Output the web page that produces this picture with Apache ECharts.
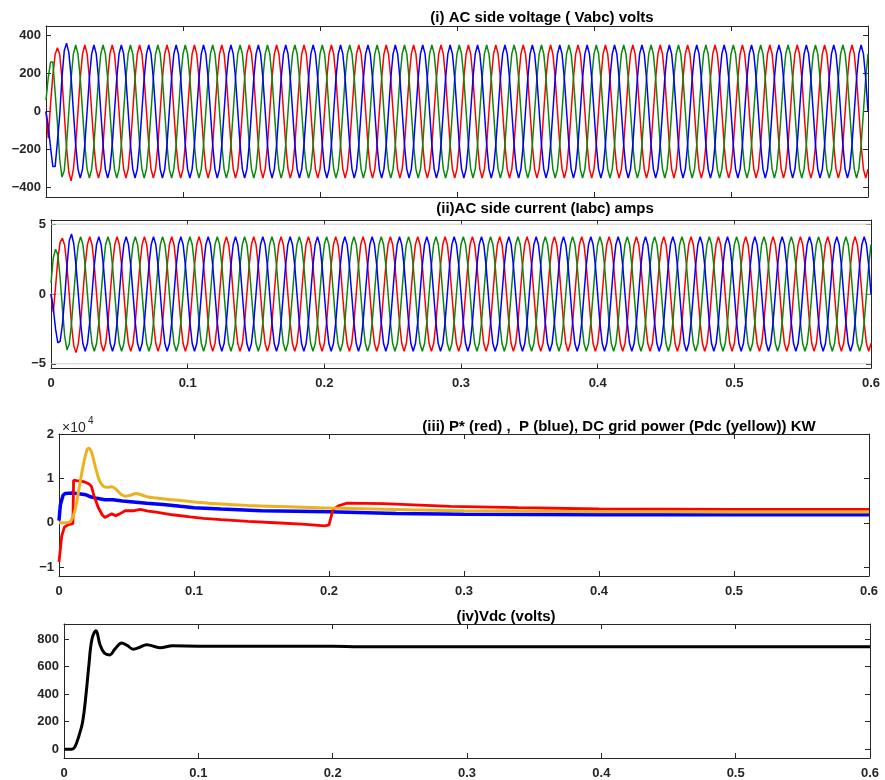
<!DOCTYPE html>
<html>
<head>
<meta charset="utf-8">
<script src="https://cdn.jsdelivr.net/npm/echarts@6/dist/echarts.min.js"></script>
<style>
  html, body { margin: 0; padding: 0; background: #fff; }
  #box { width: 885px; height: 780px; }
</style>
</head>
<body>
<div id="box"></div>
<script>
// ---- data ----
// three phase waveforms: 12 samples per 20 ms cycle, 30 cycles in 0.6 s
var cycleTime = 0.02;
var samplesPerCycle = 12;
var cycles = 30;

// first cycle (start-up transient), volts
var vaStart = [0, -140, 40, 190, 300, 335, 300, 170, -10, -190, -320, -365];
var vbStart = [0, -80, -190, -290, -290, -160, -20, 180, 320, 360, 310, 180];
var vcStart = [60, 180, 260, 260, 100, -60, -250, -345, -310, -175, 0, 175];
// steady cycle, volts
var vaCycle = [-303, -175, 0, 175, 303, 350, 303, 175, 0, -175, -303, -350];
var vbCycle = [0, -175, -303, -350, -303, -175, 0, 175, 303, 350, 303, 175];
var vcCycle = [303, 350, 303, 175, 0, -175, -303, -350, -303, -175, 0, 175];

// first cycle (start-up transient), amps
var iaStart = [0, -1.3, 0.5, 2.5, 3.7, 4.0, 3.5, 2.0, 0, -2.2, -3.7, -4.2];
var ibStart = [0, -1.0, -2.5, -3.5, -3.4, -2.2, -0.3, 2.0, 3.8, 4.3, 3.6, 2.0];
var icStart = [0.8, 2.6, 3.2, 2.8, 1.2, -1.0, -3.0, -4.0, -3.6, -2.1, 0, 2.05];
// steady cycle, amps
var iaCycle = [-3.55, -2.05, 0, 2.05, 3.55, 4.1, 3.55, 2.05, 0, -2.05, -3.55, -4.1];
var ibCycle = [0, -2.05, -3.55, -4.1, -3.55, -2.05, 0, 2.05, 3.55, 4.1, 3.55, 2.05];
var icCycle = [3.55, 4.1, 3.55, 2.05, 0, -2.05, -3.55, -4.1, -3.55, -2.05, 0, 2.05];

// P* (red)
var pRefTime = [0, 0.001, 0.002, 0.004, 0.007, 0.0103, 0.0108, 0.013, 0.016, 0.019, 0.022, 0.024, 0.026, 0.029, 0.032, 0.034, 0.037, 0.039, 0.042, 0.045, 0.049, 0.055, 0.06, 0.066, 0.072, 0.084, 0.097, 0.107, 0.12, 0.14, 0.16, 0.18, 0.197, 0.2, 0.203, 0.207, 0.213, 0.24, 0.29, 0.34, 0.4, 0.5, 0.6];
var pRefVal = [-8800, -6000, -3000, -1000, -400, -200, 9600, 9500, 9400, 9200, 8800, 8200, 6000, 3500, 1800, 1200, 1700, 2000, 1600, 2000, 2700, 2700, 3000, 2600, 2400, 1800, 1300, 1000, 700, 300, 0, -300, -700, -500, 3000, 3800, 4400, 4300, 3700, 3400, 3100, 3000, 3000];
// P (blue)
var pTime = [0, 0.001, 0.003, 0.0045, 0.01, 0.016, 0.02, 0.024, 0.028, 0.034, 0.04, 0.047, 0.055, 0.065, 0.077, 0.09, 0.1, 0.12, 0.15, 0.2, 0.25, 0.3, 0.4, 0.5, 0.6];
var pVal = [500, 4000, 6200, 6600, 6700, 6500, 6300, 5800, 5500, 5200, 5200, 4900, 4700, 4400, 4100, 3700, 3400, 3100, 2700, 2500, 2100, 1900, 1800, 1800, 1800];
// Pdc (yellow)
var pdcTime = [0, 0.006, 0.009, 0.012, 0.015, 0.018, 0.0205, 0.022, 0.024, 0.027, 0.03, 0.033, 0.036, 0.039, 0.042, 0.046, 0.049, 0.053, 0.057, 0.061, 0.066, 0.072, 0.08, 0.09, 0.1, 0.12, 0.14, 0.17, 0.2, 0.25, 0.3, 0.4, 0.5, 0.6];
var pdcVal = [0, 0, 500, 3000, 8000, 13000, 16200, 16800, 16000, 12500, 9500, 8200, 8000, 8100, 7600, 6400, 6000, 6200, 6600, 6300, 5800, 5600, 5300, 5000, 4700, 4200, 3900, 3600, 3300, 3000, 2700, 2500, 2450, 2400];

// Vdc
var vdcTime = [0, 0.0057, 0.008, 0.0112, 0.0139, 0.0164, 0.0184, 0.0208, 0.0238, 0.0268, 0.03, 0.034, 0.038, 0.043, 0.047, 0.0516, 0.056, 0.0615, 0.0714, 0.081, 0.1, 0.15, 0.2, 0.22, 0.25, 0.4, 0.6];
var vdcVal = [0, 0, 15, 100, 200, 400, 600, 800, 861, 760, 700, 686, 730, 773, 755, 728, 740, 760, 739, 752, 750, 750, 750, 745, 745, 745, 745];

// tick labels
var voltTicks = [-400, -200, 0, 200, 400];
var ampTicks = [-5, 0, 5];
var powTicks = [-10000, 0, 10000, 20000];
var vdcTicks = [0, 200, 400, 600, 800];

// ---- build ----
var FONT = '"Liberation Sans", Arial, sans-serif';
var AX = '#262626';

// start-up cycle followed by the steady cycle for the rest of the run
function wave(start, cycle) {
    var vals = start.slice();
    for (var c = 1; c < cycles; c++) vals = vals.concat(cycle);
    vals.push(cycle[0]);
    var dt = cycleTime / samplesPerCycle;
    return vals.map(function (v, k) { return [k * dt, v]; });
}
function pairs(t, v) {
    return t.map(function (x, i) { return [x, v[i]]; });
}
function minus(s) { return String(s).replace('-', '\u2212'); }

var panels = [
    { left: 46, top: 26, width: 822, height: 171, min: -450, max: 450, ticks: voltTicks, xLabel: false, fmt: function (v) { return minus(v); } },
    { left: 51, top: 220, width: 820, height: 148, min: -5.3, max: 5.3, ticks: ampTicks, xLabel: true, fmt: function (v) { return minus(v); } },
    { left: 59, top: 434, width: 810, height: 142, min: -12000, max: 20000, ticks: powTicks, xLabel: true, fmt: function (v) { return minus(v / 10000); } },
    { left: 64, top: 624, width: 806, height: 134, min: -64, max: 911, ticks: vdcTicks, xLabel: true, fmt: function (v) { return minus(v); } }
];

var grids = [], xAxes = [], yAxes = [];
panels.forEach(function (p, i) {
    grids.push({ left: p.left, top: p.top, width: p.width, height: p.height, outerBoundsMode: 'none' });
    ['bottom', 'top'].forEach(function (pos) {
        xAxes.push({
            gridIndex: i, type: 'value', position: pos, min: 0, max: 0.6, interval: 0.1,
            axisLine: { show: true, onZero: false, lineStyle: { color: AX, width: 1 } },
            axisTick: { show: true, inside: true, length: 5, lineStyle: { color: AX } },
            axisLabel: {
                show: pos === 'bottom' && p.xLabel, margin: 9,
                color: AX, fontWeight: 'bold', fontSize: 13, fontFamily: FONT,
                formatter: function (v) { return v === 0 ? '0' : v.toFixed(1); }
            },
            splitLine: { show: false }
        });
    });
    ['left', 'right'].forEach(function (pos) {
        yAxes.push({
            gridIndex: i, type: 'value', position: pos, min: p.min, max: p.max,
            axisLine: { show: true, onZero: false, lineStyle: { color: AX, width: 1 } },
            axisTick: { show: true, inside: true, length: 5, customValues: p.ticks, lineStyle: { color: AX } },
            axisLabel: {
                show: pos === 'left', customValues: p.ticks, margin: 5,
                color: AX, fontWeight: 'bold', fontSize: 13, fontFamily: FONT,
                formatter: p.fmt
            },
            splitLine: { show: false }
        });
    });
});

function line(panel, data, color, width, extra) {
    var s = {
        type: 'line', xAxisIndex: panel * 2, yAxisIndex: panel * 2,
        data: data, showSymbol: false, symbol: 'none',
        lineStyle: { color: color, width: width }, itemStyle: { color: color },
        animation: false, silent: true, z: 3
    };
    return Object.assign(s, extra || {});
}

var RED = '#ff0000', GREEN = '#0a8a0a', BLUE = '#0000ff', YELLOW = '#edb120';

// grid lines of panel ii, one across the plot at each tick value
var gridLines = ampTicks.map(function (v) {
    return line(1, [[0, v], [0.6, v]], '#cfcfcf', 1, { z: 1 });
});

var series = gridLines.concat([
    line(0, wave(vaStart, vaCycle), RED, 1.5),
    line(0, wave(vcStart, vcCycle), GREEN, 1.5),
    line(0, wave(vbStart, vbCycle), BLUE, 1.5),
    line(1, wave(iaStart, iaCycle), RED, 1.5),
    line(1, wave(icStart, icCycle), GREEN, 1.5),
    line(1, wave(ibStart, ibCycle), BLUE, 1.5),
    line(2, pairs(pTime, pVal), BLUE, 3.5),
    line(2, pairs(pRefTime, pRefVal), RED, 2.8),
    line(2, pairs(pdcTime, pdcVal), YELLOW, 3, { smooth: 0.4 }),
    line(3, pairs(vdcTime, vdcVal), '#000', 3, { smooth: 0.4 })
]);

function title(text, x, y) {
    return {
        type: 'text', x: x, y: y, silent: true,
        style: { text: text, textAlign: 'center', textVerticalAlign: 'middle', font: 'bold 15px ' + FONT, fill: '#000' }
    };
}

var myChart = echarts.init(document.getElementById('box'));
myChart.setOption({
    animation: false,
    backgroundColor: '#fff',
    grid: grids,
    xAxis: xAxes,
    yAxis: yAxes,
    series: series,
    graphic: [
        title('(i) AC side voltage ( Vabc) volts', 542, 18),
        title('(ii)AC side current (Iabc) amps', 545, 209),
        title('(iii) P* (red) ,  P (blue), DC grid power (Pdc (yellow)) KW', 619, 427),
        title('(iv)Vdc (volts)', 506, 617),
        { type: 'text', x: 62, y: 428, silent: true, style: { text: '\u00d710', textVerticalAlign: 'middle', font: '14px ' + FONT, fill: AX } },
        { type: 'text', x: 88, y: 421, silent: true, style: { text: '4', textVerticalAlign: 'middle', font: '10px ' + FONT, fill: AX } }
    ]
});
</script>
</body>
</html>
